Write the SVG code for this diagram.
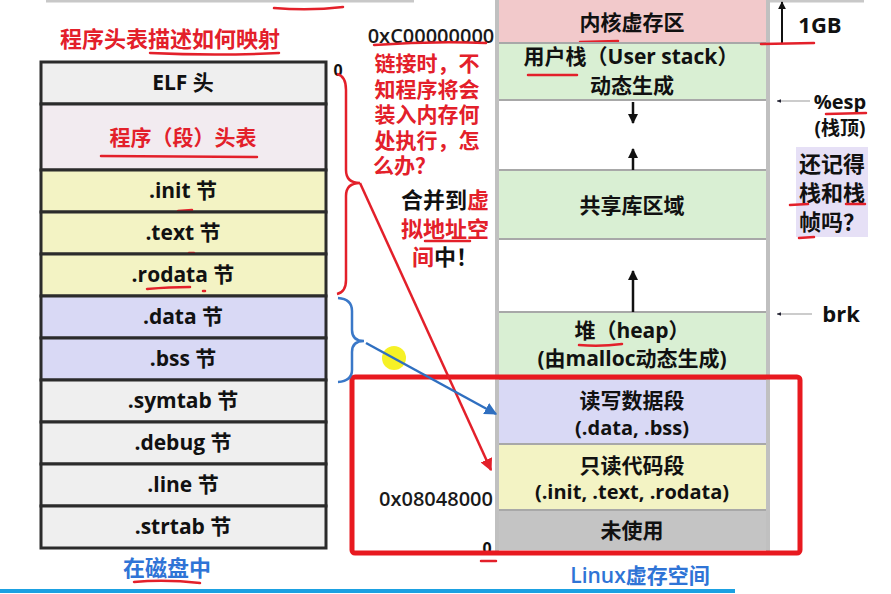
<svg xmlns="http://www.w3.org/2000/svg" width="891" height="594" viewBox="0 0 891 594">
<defs>
<style>
.t{font-family:"Open Sans","Noto Sans CJK SC",sans-serif;font-weight:bold;fill:#111;text-anchor:middle}
.c{font-family:"Noto Sans CJK SC",sans-serif}
.l{font-size:21px}
.r{font-size:21px}
.red{fill:#e3202a}
.blue{fill:#2f74d6}
.cell{stroke:#2b2b2b;stroke-width:3}
.sep{stroke:#a8a8a8;stroke-width:2}
.ul{stroke:#e3202a;stroke-width:2.5;fill:none;stroke-linecap:round}
.mono{font-family:"Open Sans","Noto Sans CJK SC",sans-serif;font-size:20px;font-weight:600;fill:#1a1a1a}
.q{font-size:21px;font-family:"Liberation Sans","Noto Sans CJK SC",sans-serif}
.m{font-size:22px;font-family:"Liberation Sans","Noto Sans CJK SC",sans-serif}
</style>
<marker id="ar" viewBox="0 0 10 10" refX="9" refY="5" markerWidth="5" markerHeight="5" orient="auto"><path d="M0,0 L10,5 L0,10 z" fill="#e3202a"/></marker>
<marker id="ab" viewBox="0 0 10 10" refX="9" refY="5" markerWidth="5" markerHeight="5" orient="auto"><path d="M0,0 L10,5 L0,10 z" fill="#2f6fc0"/></marker>
<marker id="ak" viewBox="0 0 10 10" refX="9" refY="5" markerWidth="4" markerHeight="4" orient="auto"><path d="M0,0 L10,5 L0,10 z" fill="#111"/></marker>
<marker id="ad" viewBox="0 0 10 10" refX="9" refY="5" markerWidth="4" markerHeight="4" orient="auto"><path d="M0,1 L10,5 L0,9 z" fill="#223"/></marker>
</defs>
<rect width="891" height="594" fill="#fff"/>
<!-- top remnants -->
<line x1="46" y1="1" x2="414" y2="1" stroke="#c8c8c8" stroke-width="3"/>
<line x1="770" y1="1" x2="864" y2="1" stroke="#c8c8c8" stroke-width="3"/>
<path d="M274 8 Q310 11 343 7" class="ul"/>

<!-- title -->
<g id="title">
<text x="170" y="47" class="t c red" style="font-size:22px">程序头表描述如何映射</text>
<path d="M150 53 Q215 56 279 53" class="ul"/>
</g>

<!-- left column: ELF file on disk -->
<g id="elf-header"><rect x="41" y="62" width="285" height="42" fill="#efefef" class="cell"/><text x="183" y="90" class="t l">ELF 头</text></g>
<g id="program-header-table"><rect x="41" y="104" width="285" height="66" fill="#f2ebf0" class="cell"/><text x="183" y="145" class="t l red">程序（段）头表</text><path d="M101 156 L257 157" class="ul"/></g>
<g id="init"><rect x="41" y="170" width="285" height="42" fill="#f3f3c4" class="cell"/><text x="183" y="198" class="t l">.init 节</text><path d="M178 211 L192 210" class="ul"/></g>
<g id="text"><rect x="41" y="212" width="285" height="42" fill="#f3f3c4" class="cell"/><text x="183" y="240" class="t l">.text 节</text><path d="M189 253 L194 253" class="ul"/></g>
<g id="rodata"><rect x="41" y="254" width="285" height="42" fill="#f3f3c4" class="cell"/><text x="183" y="282" class="t l">.rodata 节</text><path d="M147 289 Q170 287 190 287" class="ul"/><path d="M203 291 L205 291" class="ul"/></g>
<g id="data"><rect x="41" y="296" width="285" height="42" fill="#d9d9f5" class="cell"/><text x="183" y="324" class="t l">.data 节</text></g>
<g id="bss"><rect x="41" y="338" width="285" height="42" fill="#d9d9f5" class="cell"/><text x="183" y="366" class="t l">.bss 节</text></g>
<g id="symtab"><rect x="41" y="380" width="285" height="42" fill="#efefef" class="cell"/><text x="183" y="408" class="t l">.symtab 节</text></g>
<g id="debug"><rect x="41" y="422" width="285" height="42" fill="#efefef" class="cell"/><text x="183" y="450" class="t l">.debug 节</text></g>
<g id="line"><rect x="41" y="464" width="285" height="42" fill="#efefef" class="cell"/><text x="183" y="492" class="t l">.line 节</text></g>
<g id="strtab"><rect x="41" y="506" width="285" height="42" fill="#efefef" class="cell"/><text x="183" y="534" class="t l">.strtab 节</text></g>
<g id="on-disk-label"><text x="167" y="576" class="t blue" style="font-size:22px">在磁盘中</text><path d="M134 582 Q165 579 200 583" class="ul"/></g>

<!-- right column: Linux virtual memory -->
<g id="kernel"><rect x="497" y="0" width="271" height="43" fill="#f2c9cb"/><text x="632" y="30" class="t r">内核虚存区</text><path d="M580 42 L618 41" class="ul"/></g>
<g id="user-stack"><rect x="497" y="43" width="271" height="57" fill="#d9efd3"/><text x="631" y="64" class="t r">用户栈（User stack）</text><text x="632" y="93" class="t r">动态生成</text><path d="M528 75 L577 75" class="ul"/></g>
<g id="gap1"><rect x="497" y="100" width="271" height="70" fill="#fff"/></g>
<g id="shared-lib"><rect x="497" y="170" width="271" height="69" fill="#d9efd3"/><text x="632" y="213" class="t r">共享库区域</text></g>
<g id="gap2"><rect x="497" y="239" width="271" height="73" fill="#fff"/></g>
<g id="heap"><rect x="497" y="312" width="271" height="67" fill="#d9efd3"/><text x="632" y="338" class="t r">堆（heap）</text><text x="632" y="366" class="t r">(由malloc动态生成)</text><path d="M579 345 Q600 347 622 344" class="ul"/></g>
<g id="rw-data"><rect x="497" y="379" width="271" height="65" fill="#d9d9f5"/><text x="632" y="408" class="t r">读写数据段</text><text x="632" y="435" class="t" style="font-size:20px">(.data, .bss)</text></g>
<g id="ro-code"><rect x="497" y="444" width="271" height="66" fill="#f3f3c4"/><text x="632" y="473" class="t r">只读代码段</text><text x="632" y="499" class="t" style="font-size:20px">(.init, .text, .rodata)</text></g>
<g id="unused"><rect x="497" y="510" width="271" height="40" fill="#c4c4c4"/><text x="632" y="538" class="t r">未使用</text></g>
<g id="vm-frame">
<line x1="497" y1="43" x2="768" y2="43" class="sep"/>
<line x1="497" y1="100" x2="768" y2="100" class="sep"/>
<line x1="497" y1="170" x2="768" y2="170" class="sep"/>
<line x1="497" y1="239" x2="768" y2="239" class="sep"/>
<line x1="497" y1="312" x2="768" y2="312" class="sep"/>
<line x1="497" y1="379" x2="768" y2="379" class="sep"/>
<line x1="497" y1="444" x2="768" y2="444" class="sep"/>
<line x1="497" y1="510" x2="768" y2="510" class="sep"/>
<line x1="497" y1="0" x2="497" y2="551" stroke="#c0c0c0" stroke-width="4"/>
<line x1="768" y1="0" x2="768" y2="551" stroke="#c0c0c0" stroke-width="4"/>
</g>
<g id="vm-label"><text x="640" y="583" class="t blue" style="font-size:21px;font-weight:600">Linux虚存空间</text></g>

<!-- annotations -->
<g id="addr-top"><text x="431" y="43" class="mono" text-anchor="middle">0xC00000000</text><path d="M374 45 Q430 41 486 43" class="ul"/></g>
<g id="addr-0-top"><text x="338" y="76" class="t" style="font-size:16px">0</text></g>
<g id="question">
<text x="427" y="71" class="t red q">链接时，不</text>
<text x="427" y="96.5" class="t red q">知程序将会</text>
<text x="427" y="122" class="t red q">装入内存何</text>
<text x="427" y="147.5" class="t red q">处执行，怎</text>
<text x="373" y="173" class="t red q" style="text-anchor:start">么办？</text>
</g>
<g id="merge-note">
<text x="445" y="208" class="t m">合并到<tspan class="red">虚</tspan></text>
<text x="445" y="237" class="t m red">拟地址空</text>
<text x="445" y="265" class="t m"><tspan class="red">间</tspan>中！</text>
<path d="M425 241 L470 241" class="ul"/>
</g>
<g id="addr-08048000"><text x="436" y="506" class="mono" text-anchor="middle">0x08048000</text></g>
<g id="addr-0-bottom"><text x="487" y="554" class="t" style="font-size:16px">0</text><path d="M481 561 L496 561" class="ul"/></g>
<g id="gb-label"><text x="820" y="33" class="t" style="font-size:22px">1GB</text></g>
<g id="esp-label"><text x="840" y="109" class="t" style="font-size:20px">%esp</text><path d="M826 114 L866 113" class="ul"/><text x="840" y="135" class="t" style="font-size:19px">(栈顶)</text></g>
<g id="recall-note">
<rect x="796" y="147" width="72" height="90" fill="#e6e0f6"/>
<text x="832" y="172" class="t c" style="font-size:22px">还记得</text>
<text x="832" y="201" class="t c" style="font-size:22px">栈和栈</text>
<text x="832" y="230" class="t c" style="font-size:22px">帧吗？</text>
<path d="M790 205 L808 204" class="ul"/><path d="M846 204 L865 204" class="ul"/><path d="M799 238 L814 237" class="ul"/>
</g>
<g id="brk-label"><text x="841" y="322" class="t" style="font-size:22px">brk</text></g>
<g id="highlight"><circle cx="394" cy="358" r="12" fill="#f4ef00" opacity="0.85"/></g>
<g id="red-box"><rect x="352" y="377" width="448" height="176" rx="3" fill="none" stroke="#e8191f" stroke-width="5"/></g>

<!-- connectors -->
<g id="connectors">
<path d="M337 74 Q346 76 346 90 L346 170 Q346 183 360 183 Q346 183 346 196 L346 280 Q346 292 337 294" fill="none" stroke="#e3202a" stroke-width="2.5"/>
<path d="M338 298 Q352 299 352 311 L352 330 Q352 341 364 341 Q352 341 352 352 L352 370 Q352 381 338 382" fill="none" stroke="#3a78c8" stroke-width="2.5"/>
<line x1="360" y1="183" x2="491" y2="470" stroke="#e3202a" stroke-width="2.5" marker-end="url(#ar)"/>
<line x1="366" y1="343" x2="496" y2="414" stroke="#2f6fc0" stroke-width="2.5" marker-end="url(#ab)"/>
<line x1="633" y1="102" x2="633" y2="123" stroke="#111" stroke-width="2.5" marker-end="url(#ak)"/>
<line x1="633" y1="170" x2="633" y2="149" stroke="#111" stroke-width="2.5" marker-end="url(#ak)"/>
<line x1="633" y1="312" x2="633" y2="271" stroke="#111" stroke-width="2.5" marker-end="url(#ak)"/>
<line x1="782" y1="44" x2="782" y2="2" stroke="#111" stroke-width="2" marker-end="url(#ak)"/>
<path d="M761 44 L814 43" class="ul"/>
<line x1="810" y1="101" x2="777" y2="101" stroke="#999" stroke-width="1.2" marker-end="url(#ad)"/>
<line x1="812" y1="314" x2="777" y2="314" stroke="#999" stroke-width="1.2" marker-end="url(#ad)"/>
</g>
<line x1="0" y1="591" x2="735" y2="591" stroke="#1ba1e2" stroke-width="4"/>
</svg>
